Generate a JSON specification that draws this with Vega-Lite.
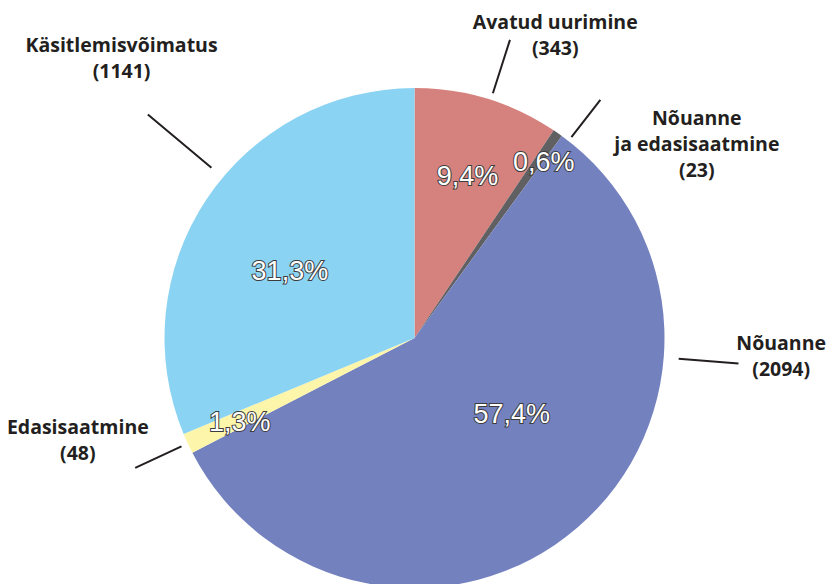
{
  "$schema": "https://vega.github.io/schema/vega-lite/v6.json",
  "width": 829,
  "height": 492,
  "autosize": {"type": "none"},
  "padding": {"left": 0, "right": 0, "top": 92, "bottom": 0},
  "background": "white",
  "config": {"view": {"stroke": null}},
  "data": {
    "values": [
      {"ord": 1, "cat": "Avatud uurimine", "count": 343, "pct": "9,4%", "label": "Avatud uurimine\n(343)"},
      {"ord": 2, "cat": "Nõuanne ja edasisaatmine", "count": 23, "pct": "0,6%", "label": "Nõuanne\nja edasisaatmine\n(23)"},
      {"ord": 3, "cat": "Nõuanne", "count": 2094, "pct": "57,4%", "label": "Nõuanne\n(2094)"},
      {"ord": 4, "cat": "Edasisaatmine", "count": 48, "pct": "1,3%", "label": "Edasisaatmine\n(48)"},
      {"ord": 5, "cat": "Käsitlemisvõimatus", "count": 1141, "pct": "31,3%", "label": "Käsitlemisvõimatus\n(1141)"}
    ]
  },
  "encoding": {
    "theta": {"field": "count", "type": "quantitative", "stack": true},
    "order": {"field": "ord", "type": "quantitative"}
  },
  "layer": [
    {
      "mark": {"type": "arc", "radius": 250},
      "encoding": {
        "color": {
          "field": "cat",
          "type": "nominal",
          "legend": null,
          "scale": {
            "domain": ["Avatud uurimine", "Nõuanne ja edasisaatmine", "Nõuanne", "Edasisaatmine", "Käsitlemisvõimatus"],
            "range": ["#d5827e", "#606062", "#7381bf", "#fdf6aa", "#8bd3f3"]
          }
        }
      }
    },
    {
      "transform": [{"filter": "datum.ord === 1"}],
      "mark": {"type": "arc", "filled": false, "stroke": "#231f20", "strokeWidth": 2},
      "encoding": {"theta": {"datum": 180}, "theta2": {"datum": 180}, "radius": {"value": 313}, "radius2": {"value": 257}}
    },
    {
      "transform": [{"filter": "datum.ord === 1"}],
      "mark": {"type": "arc", "filled": false, "stroke": "#231f20", "strokeWidth": 2},
      "encoding": {"theta": {"datum": 385}, "theta2": {"datum": 385}, "radius": {"value": 302}, "radius2": {"value": 255}}
    },
    {
      "transform": [{"filter": "datum.ord === 1"}],
      "mark": {"type": "arc", "filled": false, "stroke": "#231f20", "strokeWidth": 2},
      "encoding": {"theta": {"datum": 958}, "theta2": {"datum": 958}, "radius": {"value": 325}, "radius2": {"value": 265}}
    },
    {
      "transform": [{"filter": "datum.ord === 1"}],
      "mark": {"type": "arc", "filled": false, "stroke": "#231f20", "strokeWidth": 2},
      "encoding": {"theta": {"datum": 2484}, "theta2": {"datum": 2484}, "radius": {"value": 308}, "radius2": {"value": 257}}
    },
    {
      "transform": [{"filter": "datum.ord === 1"}],
      "mark": {"type": "arc", "filled": false, "stroke": "#231f20", "strokeWidth": 2},
      "encoding": {"theta": {"datum": 3142}, "theta2": {"datum": 3142}, "radius": {"value": 348}, "radius2": {"value": 265}}
    },
    {
      "mark": {"type": "text", "radius": 168, "dx": 4, "dy": 0, "font": "Liberation Sans", "fontSize": 27, "fill": "#3c3c3c", "stroke": "#3c3c3c", "strokeWidth": 2, "align": "center", "baseline": "middle"},
      "encoding": {"text": {"condition": {"test": "datum.ord === 1", "field": "pct"}, "value": ""}}
    },
    {
      "mark": {"type": "text", "radius": 168, "dx": 4, "dy": 0, "font": "Liberation Sans", "fontSize": 27, "fill": "white", "align": "center", "baseline": "middle"},
      "encoding": {"text": {"condition": {"test": "datum.ord === 1", "field": "pct"}, "value": ""}}
    },
    {
      "mark": {"type": "text", "radius": 215, "dx": 6, "dy": 1, "font": "Liberation Sans", "fontSize": 27, "fill": "#3c3c3c", "stroke": "#3c3c3c", "strokeWidth": 2, "align": "center", "baseline": "middle"},
      "encoding": {"text": {"condition": {"test": "datum.ord === 2", "field": "pct"}, "value": ""}}
    },
    {
      "mark": {"type": "text", "radius": 215, "dx": 6, "dy": 1, "font": "Liberation Sans", "fontSize": 27, "fill": "white", "align": "center", "baseline": "middle"},
      "encoding": {"text": {"condition": {"test": "datum.ord === 2", "field": "pct"}, "value": ""}}
    },
    {
      "mark": {"type": "text", "radius": 125, "dx": 16, "dy": -18, "font": "Liberation Sans", "fontSize": 27, "fill": "#3c3c3c", "stroke": "#3c3c3c", "strokeWidth": 2, "align": "center", "baseline": "middle"},
      "encoding": {"text": {"condition": {"test": "datum.ord === 3", "field": "pct"}, "value": ""}}
    },
    {
      "mark": {"type": "text", "radius": 125, "dx": 16, "dy": -18, "font": "Liberation Sans", "fontSize": 27, "fill": "white", "align": "center", "baseline": "middle"},
      "encoding": {"text": {"condition": {"test": "datum.ord === 3", "field": "pct"}, "value": ""}}
    },
    {
      "mark": {"type": "text", "radius": 195, "dx": 2, "dy": 3, "font": "Liberation Sans", "fontSize": 27, "fill": "#3c3c3c", "stroke": "#3c3c3c", "strokeWidth": 2, "align": "center", "baseline": "middle"},
      "encoding": {"text": {"condition": {"test": "datum.ord === 4", "field": "pct"}, "value": ""}}
    },
    {
      "mark": {"type": "text", "radius": 195, "dx": 2, "dy": 3, "font": "Liberation Sans", "fontSize": 27, "fill": "white", "align": "center", "baseline": "middle"},
      "encoding": {"text": {"condition": {"test": "datum.ord === 4", "field": "pct"}, "value": ""}}
    },
    {
      "mark": {"type": "text", "radius": 145, "dx": -4, "dy": 14, "font": "Liberation Sans", "fontSize": 27, "fill": "#3c3c3c", "stroke": "#3c3c3c", "strokeWidth": 2, "align": "center", "baseline": "middle"},
      "encoding": {"text": {"condition": {"test": "datum.ord === 5", "field": "pct"}, "value": ""}}
    },
    {
      "mark": {"type": "text", "radius": 145, "dx": -4, "dy": 14, "font": "Liberation Sans", "fontSize": 27, "fill": "white", "align": "center", "baseline": "middle"},
      "encoding": {"text": {"condition": {"test": "datum.ord === 5", "field": "pct"}, "value": ""}}
    },
    {
      "mark": {"type": "text", "radius": 250, "dx": 68, "dy": -76, "font": "Open Sans", "fontWeight": "bold", "fontSize": 19.5, "lineHeight": 26, "lineBreak": "\n", "align": "center", "baseline": "middle", "fill": "#231f20"},
      "encoding": {"text": {"condition": {"test": "datum.ord === 1", "field": "label"}, "value": ""}}
    },
    {
      "mark": {"type": "text", "radius": 250, "dx": 139, "dy": -14, "font": "Open Sans", "fontWeight": "bold", "fontSize": 19.5, "lineHeight": 26, "lineBreak": "\n", "align": "center", "baseline": "middle", "fill": "#231f20"},
      "encoding": {"text": {"condition": {"test": "datum.ord === 2", "field": "label"}, "value": ""}}
    },
    {
      "mark": {"type": "text", "radius": 250, "dx": 204, "dy": -184, "font": "Open Sans", "fontWeight": "bold", "fontSize": 19.5, "lineHeight": 26, "lineBreak": "\n", "align": "center", "baseline": "middle", "fill": "#231f20"},
      "encoding": {"text": {"condition": {"test": "datum.ord === 3", "field": "label"}, "value": ""}}
    },
    {
      "mark": {"type": "text", "radius": 250, "dx": -110, "dy": -15, "font": "Open Sans", "fontWeight": "bold", "fontSize": 19.5, "lineHeight": 26, "lineBreak": "\n", "align": "center", "baseline": "middle", "fill": "#231f20"},
      "encoding": {"text": {"condition": {"test": "datum.ord === 4", "field": "label"}, "value": ""}}
    },
    {
      "mark": {"type": "text", "radius": 250, "dx": -85, "dy": -153, "font": "Open Sans", "fontWeight": "bold", "fontSize": 19.5, "lineHeight": 26, "lineBreak": "\n", "align": "center", "baseline": "middle", "fill": "#231f20"},
      "encoding": {"text": {"condition": {"test": "datum.ord === 5", "field": "label"}, "value": ""}}
    }
  ]
}
